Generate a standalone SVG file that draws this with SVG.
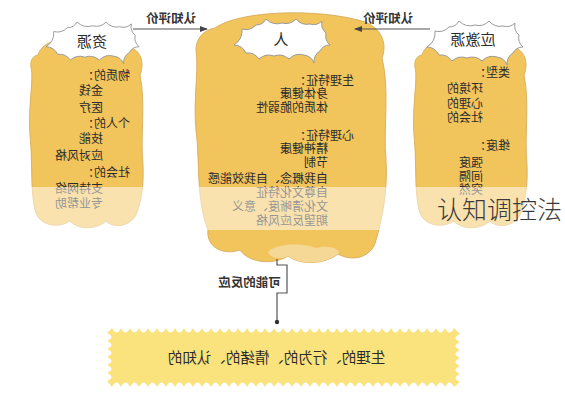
<svg xmlns="http://www.w3.org/2000/svg" width="565" height="400" viewBox="0 0 565 400">
<style>
.cloud{fill:#f2c45c;stroke:#dcb060;stroke-width:1}
.lobe{fill:#f6d896}
.bubble{fill:#fff;stroke:#9a9a9a;stroke-width:1}
.t{font-family:"Noto Sans CJK SC","Noto Sans",sans-serif;font-size:12px;fill:#2b2b2b}
.bt{font-family:"Noto Sans CJK SC","Noto Sans",sans-serif;font-size:15px;fill:#2b2b2b;text-anchor:middle}
.lbl{font-family:"Noto Sans CJK SC","Noto Sans",sans-serif;font-weight:bold;font-size:12.5px;fill:#333;text-anchor:middle}
.wire{fill:none;stroke:#555;stroke-width:1.2}
.banner{fill:#fae37c}
</style>
<defs>
<path id="bub" d="M0,26 Q8.8,20.4 8,10 Q16.2,12.2 22,6 Q28.8,6 32,0 Q38.8,6.8 48,4 Q56.2,6.2 62,0 Q67.5,6.7 76,5 Q82.9,7.1 88,2 Q86.4,9.2 92,14 Q90.4,21.2 96,26 Q89.2,26 86,32 Q79.4,36.2 80,44 Q77.4,37 70,36 Q61.3,33.5 55,40 Q48.4,34 40,37 Q31.6,34 25,40 Q20.3,33.1 12,34 Q8.4,26.4 0,26 Z"/>
<path id="side" d="M10,20 C15,5 35,2 45,10 C60,0 85,2 95,12 C110,10 118,25 112,40 C118,70 112,100 115,130 C116,155 112,170 108,180 C100,193 85,193 78,186 C68,195 50,195 42,186 C30,194 12,190 8,178 C2,160 5,130 2,100 C0,70 6,45 3,32 C2,25 5,21 10,20 Z"/>
<marker id="ah" viewBox="0 0 8 6" refX="7" refY="3" markerWidth="8" markerHeight="6" markerUnits="userSpaceOnUse" orient="auto">
<path d="M0,0 L8,3 L0,6 Z" fill="#444"/>
</marker>
</defs>
<rect width="565" height="400" fill="#fff"/>

<g id="node-resources">
<use href="#side" class="cloud" transform="translate(28,35)"/>
<use href="#bub" class="bubble" transform="translate(46,22) scale(0.97,0.95)"/>
<g transform="matrix(-1 0 0 1 565 0)">
<text class="bt" x="473" y="47">资源</text>
<text class="t" x="435" y="79.5">物质的：</text>
<text class="t" x="462" y="94.5">金钱</text>
<text class="t" x="462" y="111.5">医疗</text>
<text class="t" x="435" y="127.5">个人的：</text>
<text class="t" x="462" y="142.5">技能</text>
<text class="t" x="462" y="159.5">应对风格</text>
<text class="t" x="435" y="176.5">社会的：</text>
<text class="t" x="462" y="192.5">支持网络</text>
<text class="t" x="462" y="207.5">专业帮助</text>
</g>
</g>

<g id="node-person">
<path class="cloud" d="M215,28 C240,10 320,8 365,22 C380,28 388,42 382,58 C390,90 383,130 386,160 C388,190 382,220 376,240 C372,258 352,262 338,254 C322,266 298,264 288,256 C272,266 248,262 240,250 C222,256 206,246 208,230 C196,200 200,160 196,130 C193,100 199,70 196,50 C196,38 204,30 215,28 Z"/>
<path class="lobe" d="M268,252 C275,244 300,242 316,248 C330,244 342,250 338,254 C322,266 298,264 288,256 C280,260 270,258 268,252 Z"/>
<use href="#bub" class="bubble" transform="translate(234,19)"/>
<g transform="matrix(-1 0 0 1 565 0)">
<text class="bt" x="284" y="45">人</text>
<text class="t" x="211" y="84.5">生理特征：</text>
<text class="t" x="237" y="97.5">身体健康</text>
<text class="t" x="237" y="111.5">体质的脆弱性</text>
<text class="t" x="211" y="139.5">心理特征：</text>
<text class="t" x="237" y="152.5">精神健康</text>
<text class="t" x="237" y="167">节制</text>
<text class="t" x="237" y="182.5">自我概念、自我效能感</text>
<text class="t" x="237" y="196.5">自尊文化特征</text>
<text class="t" x="237" y="210.5">文化清晰度、意义</text>
<text class="t" x="237" y="224.5">期望反应风格</text>
</g>
</g>

<g id="node-stressors">
<use href="#side" class="cloud" transform="translate(412,35)"/>
<use href="#bub" class="bubble" transform="translate(427,21)"/>
<g transform="matrix(-1 0 0 1 565 0)">
<text class="bt" x="92" y="45">应激源</text>
<text class="t" x="55" y="76.5">类型：</text>
<text class="t" x="82" y="92.5">环境的</text>
<text class="t" x="82" y="107.5">心理的</text>
<text class="t" x="82" y="121.5">社会的</text>
<text class="t" x="55" y="149.5">维度：</text>
<text class="t" x="82" y="166.5">强度</text>
<text class="t" x="82" y="180.5">间隔</text>
<text class="t" x="82" y="194">突然</text>
</g>
</g>

<g id="node-responses">
<path class="banner" d="M112,328 q4.5,9 9,0 q4.5,9 9,0 q4.5,9 9,0 q4.5,9 9,0 q4.5,9 9,0 q4.5,9 9,0 q4.5,9 9,0 q4.5,9 9,0 q4.5,9 9,0 q4.5,9 9,0 q4.5,9 9,0 q4.5,9 9,0 q4.5,9 9,0 q4.5,9 9,0 q4.5,9 9,0 q4.5,9 9,0 q4.5,9 9,0 q4.5,9 9,0 q4.5,9 9,0 q4.5,9 9,0 q4.5,9 9,0 q4.5,9 9,0 q4.5,9 9,0 q4.5,9 9,0 q4.5,9 9,0 q4.5,9 9,0 q4.5,9 9,0 q4.5,9 9,0 q4.5,9 9,0 q4.5,9 9,0 q4.5,9 9,0 q4.5,9 9,0 q4.5,9 9,0 q4.5,9 9,0 q4.5,9 9,0 q4.5,9 9,0 q4.5,9 9,0 q4.5,9 9,0 L460,334 q-9,4 0,8 q-9,4 0,8 q-9,4 0,8 q-9,4 0,8 q-9,4 0,8 q-9,4 0,8 L454,387 q-4.5,-9 -9,0 q-4.5,-9 -9,0 q-4.5,-9 -9,0 q-4.5,-9 -9,0 q-4.5,-9 -9,0 q-4.5,-9 -9,0 q-4.5,-9 -9,0 q-4.5,-9 -9,0 q-4.5,-9 -9,0 q-4.5,-9 -9,0 q-4.5,-9 -9,0 q-4.5,-9 -9,0 q-4.5,-9 -9,0 q-4.5,-9 -9,0 q-4.5,-9 -9,0 q-4.5,-9 -9,0 q-4.5,-9 -9,0 q-4.5,-9 -9,0 q-4.5,-9 -9,0 q-4.5,-9 -9,0 q-4.5,-9 -9,0 q-4.5,-9 -9,0 q-4.5,-9 -9,0 q-4.5,-9 -9,0 q-4.5,-9 -9,0 q-4.5,-9 -9,0 q-4.5,-9 -9,0 q-4.5,-9 -9,0 q-4.5,-9 -9,0 q-4.5,-9 -9,0 q-4.5,-9 -9,0 q-4.5,-9 -9,0 q-4.5,-9 -9,0 q-4.5,-9 -9,0 q-4.5,-9 -9,0 q-4.5,-9 -9,0 q-4.5,-9 -9,0 q-4.5,-9 -9,0 L107,381 q9,-4 0,-8 q9,-4 0,-8 q9,-4 0,-8 q9,-4 0,-8 q9,-4 0,-8 q9,-4 0,-8 Z"/>
<g transform="matrix(-1 0 0 1 565 0)">
<text class="t" x="288.5" y="363" style="font-size:14.5px;text-anchor:middle">生理的、行为的、情绪的、认知的</text>
</g>
</g>

<g id="connectors">
<path class="wire" d="M133,29 H207" marker-end="url(#ah)"/>
<path class="wire" d="M430,29 H355" marker-end="url(#ah)"/>
<path class="wire" d="M277,259 V265 H287 V293 H277 V322"/>
<circle cx="277" cy="322" r="2.2" fill="#333"/>
<g transform="matrix(-1 0 0 1 565 0)">
<text class="lbl" x="394" y="22.5">认知评价</text>
<text class="lbl" x="177" y="22.5">认知评价</text>
<text class="lbl" x="315.5" y="286.5">可能的反应</text>
</g>
</g>

<rect x="0" y="187" width="565" height="43" fill="#fff" opacity="0.5"/>
<text x="437" y="219" style="font-family:'Noto Sans CJK SC',sans-serif;font-size:25px;fill:#3a3a3a;font-weight:300">认知调控法</text>
</svg>
